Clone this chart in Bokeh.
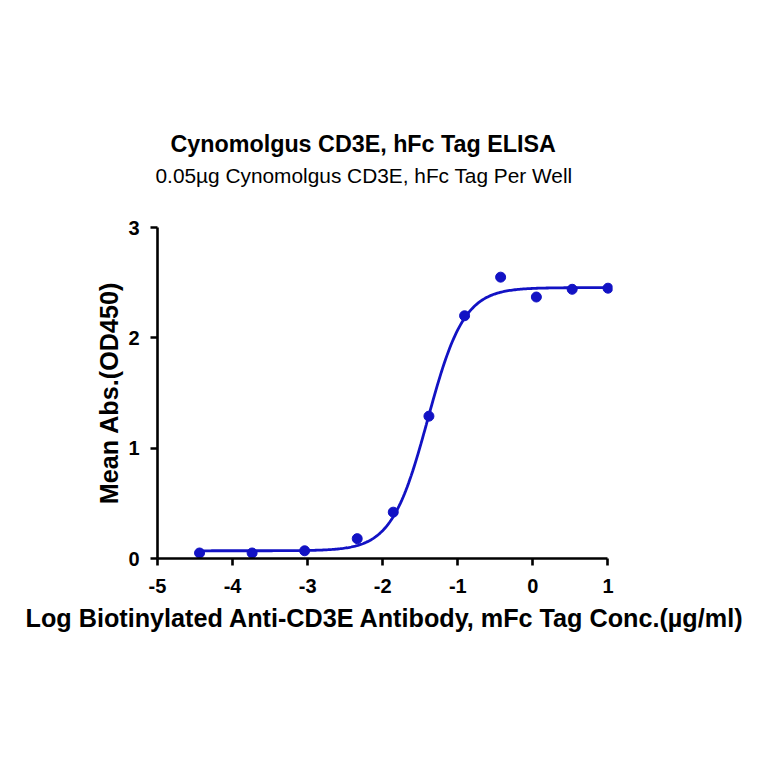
import numpy as np
from bokeh.plotting import figure
from bokeh.models import Title, FixedTicker, Range1d, PrintfTickFormatter
from bokeh.embed import file_html
from bokeh.resources import INLINE

# Data
log_conc = [-4.44, -3.74, -3.04, -2.34, -1.86, -1.385, -0.91, -0.43, 0.046, 0.523, 1.0]
mean_abs = [0.05, 0.05, 0.07, 0.18, 0.42, 1.29, 2.20, 2.55, 2.37, 2.44, 2.45]
x_ticks = [-5, -4, -3, -2, -1, 0, 1]
y_ticks = [0, 1, 2, 3]

# Four-parameter logistic fit parameters (estimated from the drawn curve)
fit_bottom = 0.07
fit_top = 2.455
fit_logec50 = -1.40
fit_hill = 1.8

title_text = "Cynomolgus CD3E, hFc Tag ELISA"
subtitle_text = "0.05\u00b5g Cynomolgus CD3E, hFc Tag Per Well"
x_label = "Log Biotinylated Anti-CD3E Antibody, mFc Tag Conc.(\u00b5g/ml)"
y_label = "Mean Abs.(OD450)"

BLUE = "#1212C4"
FONT = "Liberation Sans"

xf = np.linspace(min(log_conc), max(log_conc), 300)
yf = fit_bottom + (fit_top - fit_bottom) / (1 + 10 ** ((fit_logec50 - xf) * fit_hill))

p = figure(width=748, height=748, output_backend="svg", toolbar_location=None,
           x_range=Range1d(-5, 1.06), y_range=Range1d(0, 3))
p.min_border_left = 157
p.min_border_right = 136
p.min_border_top = 227
p.min_border_bottom = 190
p.outline_line_color = None
p.xgrid.visible = False
p.ygrid.visible = False
p.background_fill_color = "white"
p.border_fill_color = "white"

p.line(xf, yf, line_color=BLUE, line_width=2.8)
p.scatter(log_conc, mean_abs, size=10, fill_color=BLUE, line_color=BLUE)

for ax in (p.xaxis[0], p.yaxis[0]):
    ax.axis_line_width = 2.6
    ax.axis_line_color = "black"
    ax.major_tick_line_width = 2.6
    ax.major_tick_line_color = "black"
    ax.major_tick_out = 7
    ax.major_tick_in = 0
    ax.minor_tick_line_color = None
    ax.major_label_text_font = FONT
    ax.major_label_text_font_style = "bold"
    ax.major_label_text_font_size = "20px"
    ax.major_label_text_color = "black"
    ax.axis_label_text_font = FONT
    ax.axis_label_text_font_style = "bold"
    ax.axis_label_text_font_size = "25.2px"
    ax.axis_label_text_color = "black"
    ax.formatter = PrintfTickFormatter(format="%d")

p.xaxis[0].ticker = FixedTicker(ticks=x_ticks)
p.yaxis[0].ticker = FixedTicker(ticks=y_ticks)
p.xaxis[0].bounds = (-5, 1)
p.yaxis[0].bounds = (0, 3)
p.xaxis[0].axis_label = x_label
p.yaxis[0].axis_label = y_label
p.xaxis[0].major_label_standoff = 13
p.yaxis[0].major_label_standoff = 11
p.xaxis[0].axis_label_standoff = 8
p.yaxis[0].axis_label_standoff = 2

# spacer between the frame and the subtitle, then subtitle, then title
p.add_layout(Title(text=" ", text_font=FONT, text_font_size="10px",
                   standoff=28), "above")
p.add_layout(Title(text=subtitle_text, text_font=FONT, text_font_size="20.85px",
                   text_font_style="normal", text_color="black",
                   align="left", offset=-2, standoff=0), "above")
p.add_layout(Title(text=title_text, text_font=FONT, text_font_size="23.3px",
                   text_font_style="bold", text_color="black",
                   align="left", offset=13, standoff=9), "above")

open("out.html", "w").write(file_html(p, INLINE))
